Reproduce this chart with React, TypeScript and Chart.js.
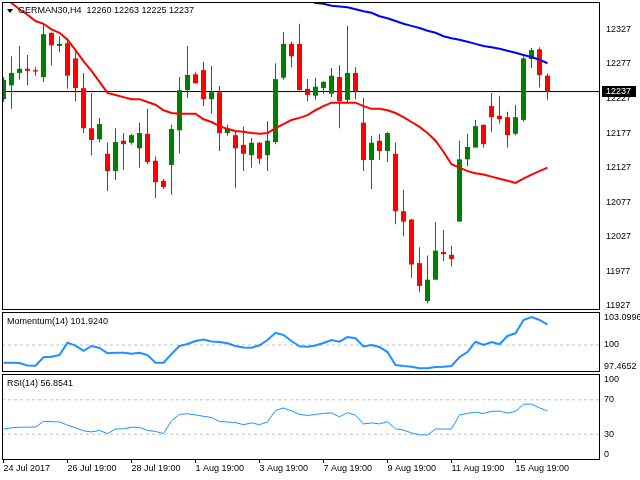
import React, { useEffect, useRef } from "react";
import { Chart, registerables } from "chart.js";

Chart.register(...registerables);

const FONT = "'Liberation Sans', Arial, sans-serif";

// ---- data ----
const SYMBOL = "GERMAN30,H4";
const LAST_BAR = [12260, 12263, 12225, 12237];
const LAST_PRICE = 12237;
const MOM_CAPTION = "Momentum(14) 101.9240";
const RSI_CAPTION = "RSI(14) 56.8541";

const OPEN = [12226, 12246, 12264, 12270, 12268, 12258, 12322, 12303, 12307, 12285, 12242, 12184, 12168, 12147, 12122, 12166, 12163, 12155, 12176, 12137, 12108, 12131, 12181, 12239, 12262, 12268, 12226, 12236, 12177, 12174, 12160, 12145, 12163, 12145, 12164, 12257, 12306, 12306, 12241, 12231, 12242, 12234, 12258, 12225, 12264, 12192, 12138, 12166, 12151, 12147, 12064, 12052, 11989, 11934, 11965, 12005, 12001, 12049, 12139, 12156, 12189, 12216, 12202, 12200, 12176, 12196, 12284, 12298, 12260];
const HIGH = [12258, 12288, 12303, 12290, 12272, 12335, 12322, 12317, 12314, 12294, 12264, 12235, 12199, 12163, 12184, 12177, 12176, 12192, 12212, 12143, 12111, 12189, 12258, 12303, 12265, 12280, 12274, 12245, 12189, 12180, 12186, 12170, 12164, 12194, 12278, 12323, 12309, 12335, 12255, 12257, 12252, 12271, 12275, 12332, 12272, 12228, 12173, 12176, 12179, 12163, 12095, 12053, 12012, 12000, 12048, 12037, 12014, 12166, 12176, 12196, 12189, 12235, 12231, 12208, 12218, 12288, 12300, 12301, 12263];
const LOW = [12222, 12212, 12254, 12246, 12260, 12251, 12275, 12294, 12241, 12223, 12177, 12145, 12164, 12093, 12109, 12124, 12160, 12127, 12132, 12083, 12096, 12088, 12148, 12228, 12249, 12216, 12205, 12151, 12173, 12098, 12122, 12127, 12132, 12122, 12161, 12254, 12272, 12239, 12223, 12225, 12234, 12229, 12184, 12222, 12226, 12122, 12096, 12138, 12135, 12045, 12028, 11968, 11947, 11931, 11965, 11992, 11984, 12049, 12129, 12156, 12156, 12179, 12191, 12156, 12174, 12194, 12271, 12243, 12225];
const CLOSE = [12254, 12264, 12270, 12267, 12266, 12320, 12304, 12306, 12260, 12242, 12184, 12167, 12190, 12122, 12164, 12161, 12174, 12177, 12135, 12106, 12099, 12183, 12239, 12261, 12249, 12226, 12236, 12177, 12184, 12155, 12147, 12163, 12140, 12166, 12255, 12306, 12288, 12239, 12232, 12244, 12251, 12260, 12223, 12264, 12238, 12138, 12163, 12151, 12177, 12064, 12049, 11987, 11956, 11965, 12007, 12002, 11995, 12139, 12157, 12187, 12161, 12200, 12197, 12174, 12200, 12285, 12297, 12261, 12237];

const MA_RED = [12374, 12365, 12356, 12348, 12339, 12335, 12327, 12322, 12312, 12297, 12281, 12267, 12251, 12235, 12232, 12229, 12226, 12226, 12222, 12218, 12210, 12206, 12205, 12205, 12205, 12197, 12193, 12187, 12183, 12180, 12179, 12177, 12176, 12177, 12184, 12190, 12196, 12199, 12203, 12210, 12216, 12221, 12221, 12221, 12221, 12216, 12212, 12212, 12210, 12206, 12200, 12193, 12186, 12177, 12166, 12150, 12132, 12127, 12122, 12119, 12117, 12114, 12111, 12108, 12105, 12111, 12117, 12122, 12127];
const MA_BLUE_START = 38;
const MA_BLUE = [12370, 12365, 12364, 12361, 12360, 12359, 12356, 12353, 12351, 12346, 12343, 12339, 12335, 12332, 12329, 12325, 12322, 12317, 12314, 12312, 12309, 12306, 12303, 12301, 12299, 12296, 12293, 12290, 12287, 12283, 12278];

const MOMENTUM = [98.34, 98.34, 98.31, 98.08, 98.06, 98.85, 98.9, 99.06, 100.22, 99.95, 99.46, 99.91, 99.72, 99.22, 99.28, 99.28, 99.18, 99.28, 99.06, 98.34, 98.34, 99.15, 99.91, 100.09, 100.38, 100.52, 100.33, 100.28, 100.16, 99.91, 99.77, 99.75, 99.97, 100.47, 101.15, 100.94, 100.38, 99.88, 99.84, 99.95, 100.19, 100.47, 100.31, 100.75, 100.63, 99.86, 100.0, 99.81, 99.34, 98.12, 98.03, 97.96, 97.81, 97.81, 97.93, 97.96, 98.03, 98.87, 99.34, 100.31, 100.0, 100.28, 100.07, 100.85, 101.1, 102.35, 102.63, 102.35, 101.92];
const RSI = [35.9, 37.5, 38.1, 38.2, 38.3, 45.0, 44.6, 44.3, 40.5, 37.5, 33.9, 32.7, 34.3, 30.7, 36.0, 36.3, 38.1, 37.9, 34.3, 33.3, 30.7, 45.8, 53.0, 53.8, 52.4, 50.8, 49.4, 44.6, 44.3, 43.5, 41.1, 43.1, 41.1, 44.3, 57.7, 60.5, 57.1, 53.0, 51.8, 53.0, 54.2, 54.8, 50.2, 55.0, 52.1, 41.9, 43.1, 42.0, 44.6, 36.3, 34.8, 31.5, 29.2, 29.2, 36.0, 36.0, 36.0, 52.4, 54.2, 55.7, 54.2, 56.5, 56.9, 54.5, 56.5, 64.9, 64.9, 60.7, 56.85];

const PRICE_TICKS = [11927, 11977, 12027, 12077, 12127, 12177, 12227, 12277, 12327];
const MOM_TICKS = [97.4652, 100, 103.0996];
const MOM_LEVEL = 100;
const RSI_TICKS = [0, 30, 70, 100];
const RSI_LEVELS = [30, 70];
const X_TICK_POS = [0, 8, 16, 24, 32, 40, 48, 56, 64];
const X_TICK_LABELS = ["24 Jul 2017", "26 Jul 19:00", "28 Jul 19:00", "1 Aug 19:00", "3 Aug 19:00", "7 Aug 19:00", "9 Aug 19:00", "11 Aug 19:00", "15 Aug 19:00"];

// ---- view ranges ----
const X_MIN = -0.1875;
const X_MAX = 74.5625;
const PRICE_MIN = 11921.2;
const PRICE_MAX = 12366.5;

const GREEN = "#008000";
const RED = "#ff0000";
const BLUE = "#0000ff";
const IND = "#1e90ff";

const framePlugin = {
  id: "frame",
  afterDatasetsDraw(chart: any) {
    const { ctx, chartArea: a } = chart;
    ctx.save();
    ctx.strokeStyle = "#000";
    ctx.lineWidth = 1;
    ctx.strokeRect(a.left + 0.5, a.top + 0.5, a.right - a.left - 1, a.bottom - a.top - 1);
    ctx.restore();
  },
};

const priceBoxPlugin = {
  id: "priceBox",
  afterDraw(chart: any) {
    const { ctx, chartArea, scales } = chart;
    const yc = scales.y.getPixelForValue(LAST_PRICE);
    const top = Math.round(yc - 5.5);
    ctx.save();
    ctx.fillStyle = "#000";
    ctx.fillRect(chartArea.right + 2, top, 34, 11);
    ctx.fillStyle = "#fff";
    ctx.font = `9px ${FONT}`;
    ctx.textBaseline = "middle";
    ctx.fillText(String(LAST_PRICE), chartArea.right + 6, top + 6);
    ctx.restore();
  },
};

const hiddenX = { type: "linear", min: X_MIN, max: X_MAX, offset: false, display: false, grid: { offset: false } };

function rightAxis(min: number, max: number, ticks: number[], pad: number, label: (v: number, i: number, n: number) => any) {
  return {
    type: "linear",
    position: "right",
    min,
    max,
    afterBuildTicks: (s: any) => {
      s.ticks = ticks.map((v) => ({ value: v }));
    },
    afterFit: (s: any) => {
      s.width = 40;
      s.paddingTop = 0;
      s.paddingBottom = 0;
    },
    ticks: {
      autoSkip: false,
      padding: pad,
      color: "#000",
      font: { family: FONT, size: 9 },
      callback: (v: number, i: number, all: any[]) => label(v, i, all.length),
    },
    grid: { display: false, drawTicks: false },
    border: { display: false },
  };
}

const edgeLabel = (v: number, i: number, n: number) =>
  i === 0 ? [String(v), ""] : i === n - 1 ? ["", String(v)] : String(v);

const baseOptions = {
  responsive: false,
  animation: false,
  events: [],
  plugins: { legend: { display: false }, tooltip: { enabled: false } },
};

function mainConfig(): any {
  const colors = OPEN.map((o, i) => (CLOSE[i] >= o ? GREEN : RED));
  return {
    type: "bar",
    data: {
      datasets: [
        {
          type: "line",
          label: "last",
          data: [
            { x: X_MIN, y: LAST_PRICE },
            { x: X_MAX, y: LAST_PRICE },
          ],
          borderColor: "#000",
          borderWidth: 1,
          pointRadius: 0,
          order: 10,
        },
        {
          type: "bar",
          label: "wick",
          data: OPEN.map((_, i) => ({ x: i, y: [LOW[i], HIGH[i]] })),
          backgroundColor: colors,
          maxBarThickness: 1,
          grouped: false,
          inflateAmount: 0,
          order: 5,
        },
        {
          type: "bar",
          label: "body",
          data: OPEN.map((o, i) => ({ x: i, y: [o, CLOSE[i]] })),
          backgroundColor: colors,
          maxBarThickness: 5,
          grouped: false,
          minBarLength: 1,
          inflateAmount: 0,
          order: 4,
        },
        {
          type: "line",
          label: "ma20",
          data: MA_RED.map((v, i) => ({ x: i, y: v })),
          borderColor: RED,
          borderWidth: 2,
          pointRadius: 0,
          tension: 0,
          clip: 0,
          order: 2,
        },
        {
          type: "line",
          label: "ma200",
          data: MA_BLUE.map((v, i) => ({ x: i + MA_BLUE_START, y: v })),
          borderColor: BLUE,
          borderWidth: 2,
          pointRadius: 0,
          tension: 0,
          clip: 0,
          order: 1,
        },
      ],
    },
    options: {
      ...baseOptions,
      layout: { padding: { left: 2, right: 0, top: 2, bottom: 1 } },
      scales: {
        x: hiddenX,
        y: rightAxis(PRICE_MIN, PRICE_MAX, PRICE_TICKS, 6, (v) => String(v)),
      },
    },
    plugins: [framePlugin, priceBoxPlugin],
  };
}

function levelLine(level: number) {
  return {
    type: "line",
    data: [
      { x: X_MIN, y: level },
      { x: X_MAX, y: level },
    ],
    borderColor: "#c0c0c0",
    borderWidth: 1,
    borderDash: [3, 3],
    pointRadius: 0,
    order: 5,
  };
}

function momConfig(): any {
  return {
    type: "line",
    data: {
      datasets: [
        levelLine(MOM_LEVEL),
        {
          label: "momentum",
          data: MOMENTUM.map((v, i) => ({ x: i, y: v })),
          borderColor: IND,
          borderWidth: 2,
          pointRadius: 0,
          tension: 0,
          order: 1,
        },
      ],
    },
    options: {
      ...baseOptions,
      layout: { padding: { left: 2, right: 0, top: 1, bottom: 1 } },
      scales: {
        x: hiddenX,
        y: rightAxis(MOM_TICKS[0], MOM_TICKS[MOM_TICKS.length - 1], MOM_TICKS, 4, edgeLabel),
      },
    },
    plugins: [framePlugin],
  };
}

function rsiConfig(): any {
  return {
    type: "line",
    data: {
      datasets: [
        ...RSI_LEVELS.map(levelLine),
        {
          label: "rsi",
          data: RSI.map((v, i) => ({ x: i, y: v })),
          borderColor: IND,
          borderWidth: 1,
          pointRadius: 0,
          tension: 0,
          order: 1,
        },
      ],
    },
    options: {
      ...baseOptions,
      layout: { padding: { left: 2, right: 0, top: 1, bottom: 0 } },
      scales: {
        x: {
          type: "linear",
          min: X_MIN,
          max: X_MAX,
          offset: false,
          afterBuildTicks: (s: any) => {
            s.ticks = X_TICK_POS.map((v) => ({ value: v }));
          },
          afterFit: (s: any) => {
            s.height = 20;
            s.paddingLeft = 0;
            s.paddingRight = 0;
          },
          ticks: {
            autoSkip: false,
            maxRotation: 0,
            minRotation: 0,
            align: "start",
            padding: 0,
            color: "#000",
            font: { family: FONT, size: 9 },
            callback: (_v: number, i: number) => X_TICK_LABELS[i],
          },
          grid: { drawOnChartArea: false, drawTicks: true, tickLength: 3, color: "#000", offset: false },
          border: { display: false },
        },
        y: rightAxis(0, 100, RSI_TICKS, 4, edgeLabel),
      },
    },
    plugins: [framePlugin],
  };
}

const caption: React.CSSProperties = {
  position: "absolute",
  fontFamily: FONT,
  fontSize: 9,
  lineHeight: "11px",
  color: "#000",
  whiteSpace: "pre",
};

export default function App() {
  const mainRef = useRef<HTMLCanvasElement>(null);
  const momRef = useRef<HTMLCanvasElement>(null);
  const rsiRef = useRef<HTMLCanvasElement>(null);

  useEffect(() => {
    const charts = [
      new Chart(mainRef.current as HTMLCanvasElement, mainConfig()),
      new Chart(momRef.current as HTMLCanvasElement, momConfig()),
      new Chart(rsiRef.current as HTMLCanvasElement, rsiConfig()),
    ];
    return () => charts.forEach((c) => c.destroy());
  }, []);

  return (
    <div style={{ position: "fixed", left: 0, top: 0, width: 640, height: 480, background: "#fff", overflow: "hidden" }}>
      <canvas ref={mainRef} width={640} height={311} style={{ position: "absolute", left: 0, top: 0 }} />
      <canvas ref={momRef} width={640} height={62} style={{ position: "absolute", left: 0, top: 311 }} />
      <canvas ref={rsiRef} width={640} height={107} style={{ position: "absolute", left: 0, top: 373 }} />
      <div
        style={{
          position: "absolute",
          left: 7,
          top: 9,
          width: 0,
          height: 0,
          borderLeft: "3px solid transparent",
          borderRight: "3px solid transparent",
          borderTop: "4px solid #000",
        }}
      />
      <div style={{ ...caption, left: 18, top: 5 }}>{`${SYMBOL}  ${LAST_BAR.join(" ")}`}</div>
      <div style={{ ...caption, left: 7, top: 316 }}>{MOM_CAPTION}</div>
      <div style={{ ...caption, left: 7, top: 378 }}>{RSI_CAPTION}</div>
    </div>
  );
}
